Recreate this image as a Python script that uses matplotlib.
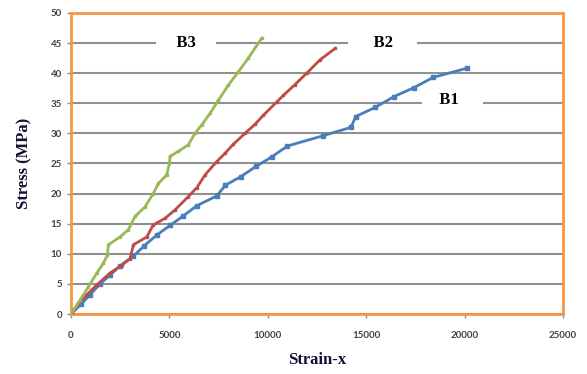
import matplotlib
matplotlib.use("Agg")
import matplotlib.pyplot as plt

# strain / stress readings for the three beams
b1_strain = [0, 500, 965, 1470, 2000, 2490, 3170, 3710, 4350, 5030, 5710, 6400,
             7400, 7850, 8620, 9400, 10200, 11000, 12800, 14230, 14470, 15450,
             16410, 17430, 18410, 20100]
b1_stress = [0, 1.6, 3.2, 5.0, 6.5, 8.0, 9.6, 11.3, 13.1, 14.7, 16.3, 18.0,
             19.6, 21.4, 22.8, 24.5, 26.1, 27.9, 29.6, 31.0, 32.8, 34.3,
             36.1, 37.6, 39.3, 40.8]

b2_strain = [0, 370, 800, 1300, 1980, 2580, 3000, 3170, 3850, 4180, 4780, 5290,
             5960, 6400, 6810, 7400, 7830, 8250, 8840, 9350, 9770, 10450,
             10790, 11380, 11980, 12650, 13420]
b2_stress = [0, 1.8, 3.2, 4.8, 6.8, 8.1, 9.2, 11.5, 12.8, 14.8, 15.9, 17.3,
             19.5, 21.0, 23.1, 25.3, 26.7, 28.2, 30.0, 31.5, 33.0, 35.2,
             36.3, 38.1, 40.0, 42.2, 44.1]

b3_strain = [0, 460, 880, 1310, 1640, 1850, 1900, 2490, 2910, 3250, 3760, 4180,
             4440, 4860, 5000, 5030, 5450, 5960, 6300, 6640, 7060, 7490, 7990,
             8500, 9010, 9690]
b3_stress = [0, 2.3, 4.5, 6.8, 8.4, 9.8, 11.5, 12.8, 14.0, 16.2, 17.8, 20.0,
             21.7, 23.1, 25.0, 26.2, 27.0, 28.1, 30.0, 31.4, 33.3, 35.5, 38.0,
             40.2, 42.5, 45.8]

x_ticks = [0, 5000, 10000, 15000, 20000, 25000]
y_ticks = [0, 5, 10, 15, 20, 25, 30, 35, 40, 45, 50]

fig = plt.figure(figsize=(5.87, 3.74), dpi=100)
ax = fig.add_axes([0.121, 0.1604, 0.838, 0.805])

ax.plot(b1_strain, b1_stress, color="#4a7ebb", lw=2, marker="s", ms=2.8, zorder=3)
ax.plot(b2_strain, b2_stress, color="#be4b48", lw=2, marker="s", ms=1.8, zorder=3)
ax.plot(b3_strain, b3_stress, color="#98b954", lw=2, marker="s", ms=1.8, zorder=3)

ax.set_xlim(0, 25000)
ax.set_ylim(0, 50)
ax.set_xticks(x_ticks)
ax.set_yticks(y_ticks)
ax.grid(axis="y", color="#909090", lw=1.5)
ax.set_axisbelow(True)

for s in ax.spines.values():
    s.set_color("#f79646")
    s.set_linewidth(2)

ax.tick_params(colors="#8c8c8c", length=3, width=1, direction="out")
for lbl in ax.get_xticklabels() + ax.get_yticklabels():
    lbl.set_fontfamily("Lato")
    lbl.set_fontsize(7)
    lbl.set_fontweight("bold")
    lbl.set_color("#404040")
ax.tick_params(axis="x", pad=9)

axis_font = dict(family="Liberation Serif", weight="bold", size=12, color="#111133")
ax.set_xlabel("Strain-x", labelpad=9, **axis_font)
ax.set_ylabel("Stress (MPa)", labelpad=13, **axis_font)

box = dict(boxstyle="square,pad=0.25", fc="white", ec="none")
label_font = dict(family="Liberation Serif", weight="bold", size=12,
                  ha="center", va="center", bbox=box, zorder=2)
ax.text(5850, 45, "    B3    ", **label_font)
ax.text(15850, 45, "     B2     ", **label_font)
ax.text(19400, 35.5, "   B1     ", **label_font)

fig.savefig("out.png", dpi=100)
